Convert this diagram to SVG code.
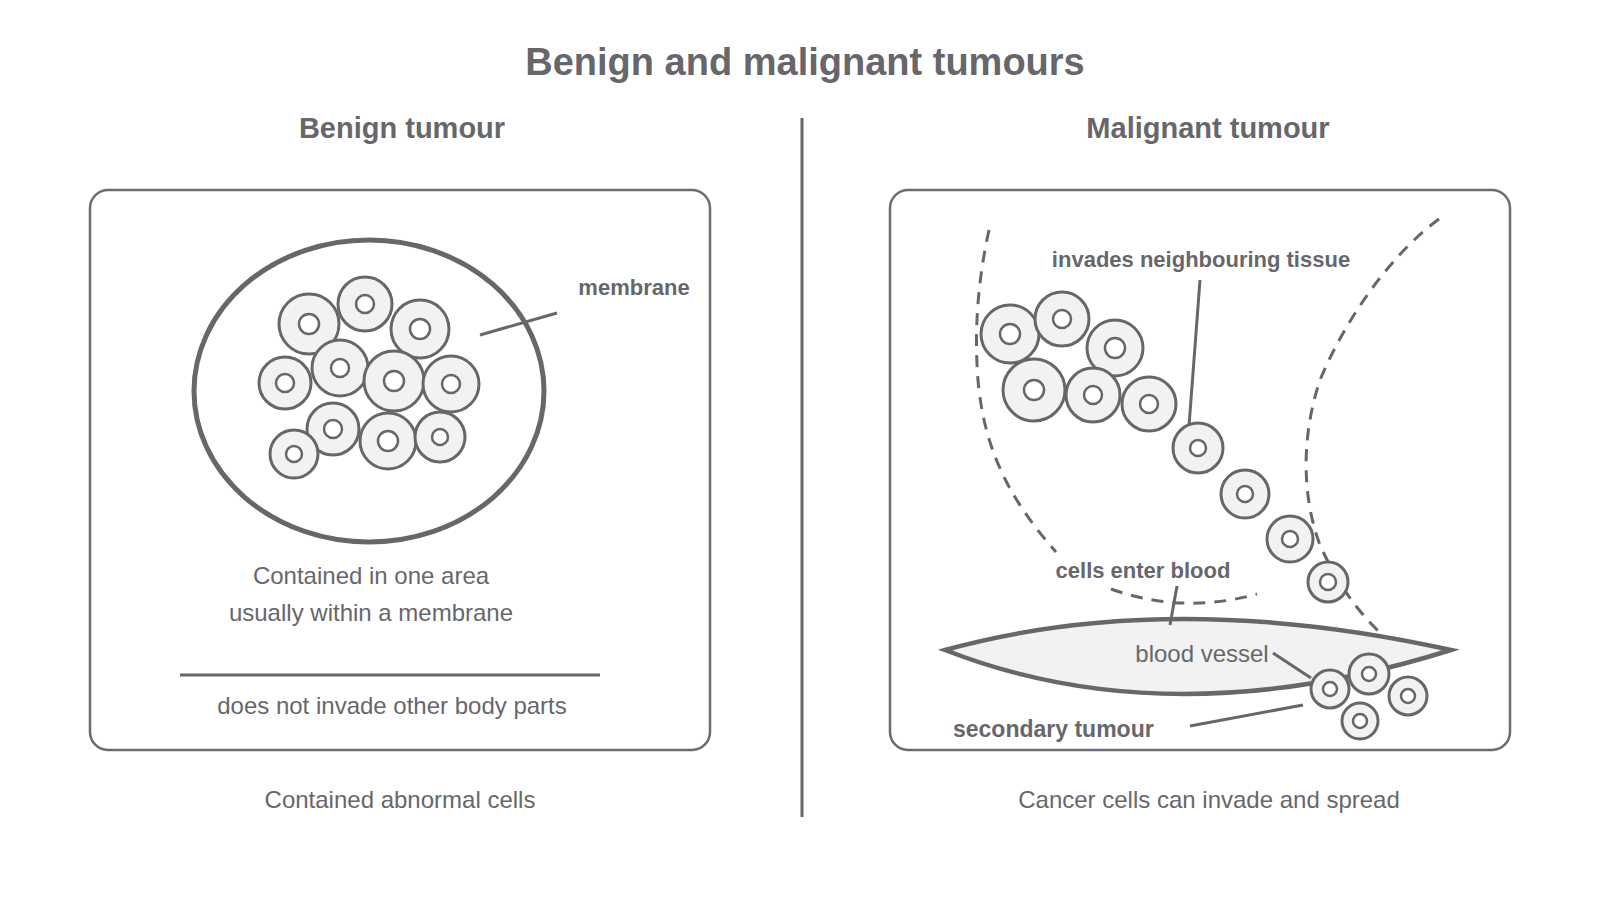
<svg xmlns="http://www.w3.org/2000/svg" width="1600" height="900" viewBox="0 0 1600 900">
<style>
text{font-family:"Liberation Sans",Arial,sans-serif;fill:#67676b}
.b{font-weight:bold}
.panel{fill:none;stroke:#6b6b70;stroke-width:2.5}
.cell{fill:#f2f2f2;stroke:#67676b;stroke-width:3}
.nuc{fill:#fff;stroke:#67676b;stroke-width:2.5}
.ln{stroke:#67676b;stroke-width:3;fill:none}
.dash{stroke:#67676b;stroke-width:3;fill:none;stroke-dasharray:12 9}
</style>
<rect width="1600" height="900" fill="#fff"/>
<text x="805" y="75" font-size="38" class="b" text-anchor="middle">Benign and malignant tumours</text>
<text x="402" y="138" font-size="29" class="b" text-anchor="middle">Benign tumour</text>
<text x="1208" y="138" font-size="29" class="b" text-anchor="middle">Malignant tumour</text>
<line x1="802" y1="118" x2="802" y2="817" class="ln"/>
<g id="benign">
<rect x="90" y="190" width="620" height="560" rx="18" class="panel"/>
<ellipse cx="369" cy="391" rx="175" ry="151" fill="none" stroke="#67676b" stroke-width="5"/>
<g id="cells-left">
<circle class="cell" cx="309" cy="324" r="30"/><circle class="nuc" cx="309" cy="324" r="10"/>
<circle class="cell" cx="365" cy="304" r="27"/><circle class="nuc" cx="365" cy="304" r="9"/>
<circle class="cell" cx="420" cy="329" r="29"/><circle class="nuc" cx="420" cy="329" r="10"/>
<circle class="cell" cx="285" cy="383" r="26"/><circle class="nuc" cx="285" cy="383" r="9"/>
<circle class="cell" cx="340" cy="368" r="28"/><circle class="nuc" cx="340" cy="368" r="9"/>
<circle class="cell" cx="394" cy="381" r="30"/><circle class="nuc" cx="394" cy="381" r="10"/>
<circle class="cell" cx="451" cy="384" r="28"/><circle class="nuc" cx="451" cy="384" r="9"/>
<circle class="cell" cx="333" cy="429" r="26"/><circle class="nuc" cx="333" cy="429" r="9"/>
<circle class="cell" cx="388" cy="441" r="28"/><circle class="nuc" cx="388" cy="441" r="10"/>
<circle class="cell" cx="440" cy="437" r="25"/><circle class="nuc" cx="440" cy="437" r="8"/>
<circle class="cell" cx="294" cy="454" r="24"/><circle class="nuc" cx="294" cy="454" r="8"/>
</g>
<line x1="480" y1="335" x2="557" y2="313" class="ln"/>
<text x="634" y="295" font-size="22" class="b" text-anchor="middle">membrane</text>
<text x="371" y="584" font-size="24" text-anchor="middle">Contained in one area</text>
<text x="371" y="621" font-size="24" text-anchor="middle">usually within a membrane</text>
<line x1="180" y1="675" x2="600" y2="675" class="ln"/>
<text x="392" y="714" font-size="24" text-anchor="middle">does not invade other body parts</text>
</g>
<text x="400" y="808" font-size="24" text-anchor="middle">Contained abnormal cells</text>
<g id="malignant">
<rect x="890" y="190" width="620" height="560" rx="18" class="panel"/>
<path class="dash" d="M989,230 C978,280 974,330 978,380 C984,450 1010,500 1056,552"/>
<path class="dash" d="M1111,589 C1150,603 1200,610 1257,594"/>
<path class="dash" d="M1439,219 C1390,255 1345,320 1320,380 C1300,440 1303,500 1320,545 C1340,590 1365,620 1388,640"/>
<path d="M945,650 Q1170,588 1451,650 Q1170,738 945,650 Z" fill="#f2f2f2" stroke="#67676b" stroke-width="4.5" stroke-linejoin="miter"/>
<text x="1202" y="662" font-size="24" text-anchor="middle">blood vessel</text>
<g id="cells-right">
<circle class="cell" cx="1010" cy="334" r="29"/><circle class="nuc" cx="1010" cy="334" r="10"/>
<circle class="cell" cx="1062" cy="319" r="27"/><circle class="nuc" cx="1062" cy="319" r="9"/>
<circle class="cell" cx="1115" cy="348" r="28"/><circle class="nuc" cx="1115" cy="348" r="10"/>
<circle class="cell" cx="1034" cy="390" r="31"/><circle class="nuc" cx="1034" cy="390" r="10"/>
<circle class="cell" cx="1093" cy="395" r="27"/><circle class="nuc" cx="1093" cy="395" r="9"/>
<circle class="cell" cx="1149" cy="404" r="27"/><circle class="nuc" cx="1149" cy="404" r="9"/>
<circle class="cell" cx="1198" cy="448" r="25"/><circle class="nuc" cx="1198" cy="448" r="8"/>
<circle class="cell" cx="1245" cy="494" r="24"/><circle class="nuc" cx="1245" cy="494" r="8"/>
<circle class="cell" cx="1290" cy="539" r="23"/><circle class="nuc" cx="1290" cy="539" r="8"/>
<circle class="cell" cx="1328" cy="582" r="20"/><circle class="nuc" cx="1328" cy="582" r="8"/>
<circle class="cell" cx="1330" cy="689" r="19"/><circle class="nuc" cx="1330" cy="689" r="7"/>
<circle class="cell" cx="1369" cy="674" r="20"/><circle class="nuc" cx="1369" cy="674" r="7"/>
<circle class="cell" cx="1408" cy="696" r="19"/><circle class="nuc" cx="1408" cy="696" r="7"/>
<circle class="cell" cx="1360" cy="721" r="18"/><circle class="nuc" cx="1360" cy="721" r="7"/>
</g>
<g id="connectors">
<line x1="1200" y1="280" x2="1189" y2="426" class="ln"/>
<line x1="1177" y1="586" x2="1170" y2="625" class="ln"/>
<line x1="1273" y1="653" x2="1311" y2="678" class="ln"/>
<line x1="1190" y1="726" x2="1303" y2="705" class="ln"/>
</g>
<text x="1201" y="267" font-size="22" class="b" text-anchor="middle">invades neighbouring tissue</text>
<text x="1143" y="578" font-size="22" class="b" text-anchor="middle">cells enter blood</text>
<text x="953" y="737" font-size="23" class="b">secondary tumour</text>
</g>
<text x="1209" y="808" font-size="24" text-anchor="middle">Cancer cells can invade and spread</text>
</svg>
